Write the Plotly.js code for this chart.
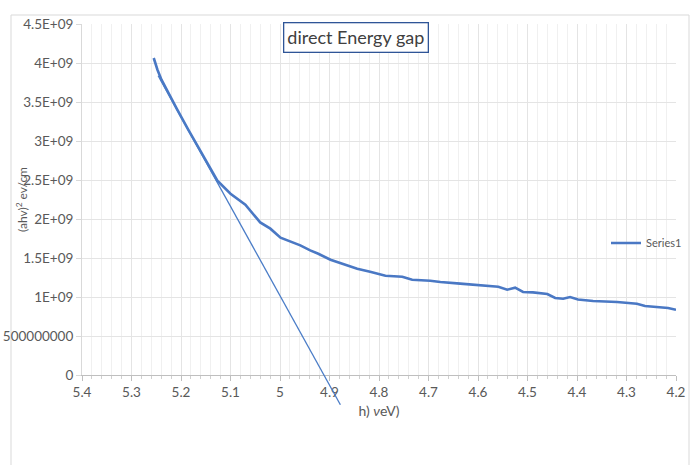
<!DOCTYPE html>
<html>
<head>
<meta charset="utf-8">
<script src="https://cdn.plot.ly/plotly-3.0.1.min.js"></script>
<style>
html,body{margin:0;padding:0;background:#fff;}
#chart{width:691px;height:465px;}
</style>
</head>
<body>
<div id="chart"></div>
<script>
// Series1: photon energy (eV) vs (ahv)^2
const energy = [5.2551, 5.2476, 5.2395, 5.2294, 5.2076, 5.1854, 5.1628, 5.1457, 5.1265, 5.100,
  5.070, 5.040, 5.0195, 4.999, 4.979, 4.959, 4.939, 4.9226, 4.898, 4.872,
  4.844, 4.818, 4.787, 4.753, 4.733, 4.6965, 4.676, 4.636, 4.596, 4.559,
  4.541, 4.525, 4.509, 4.489, 4.460, 4.444, 4.428, 4.414, 4.398, 4.3675,
  4.319, 4.279, 4.2625, 4.246, 4.216, 4.200];
const ahv2 = [4.064e9, 3.914e9, 3.786e9, 3.658e9, 3.401e9, 3.145e9, 2.888e9, 2.696e9, 2.491e9, 2.324e9,
  2.183e9, 1.956e9, 1.876e9, 1.760e9, 1.709e9, 1.662e9, 1.597e9, 1.555e9, 1.478e9, 1.418e9,
  1.363e9, 1.324e9, 1.273e9, 1.260e9, 1.222e9, 1.209e9, 1.192e9, 1.171e9, 1.149e9, 1.132e9,
  1.094e9, 1.119e9, 1.064e9, 1.059e9, 1.038e9, 0.987e9, 0.978e9, 1.000e9, 0.969e9, 0.949e9,
  0.936e9, 0.914e9, 0.885e9, 0.879e9, 0.859e9, 0.837e9];

// Tangent (extrapolation) line end points
const tangentX = [5.2462, 4.878];
const tangentY = [3.837e9, -0.381e9];

// Axis ticks
const xTickVals = [5.4, 5.3, 5.2, 5.1, 5.0, 4.9, 4.8, 4.7, 4.6, 4.5, 4.4, 4.3, 4.2];
const xTickText = ["5.4", "5.3", "5.2", "5.1", "5", "4.9", "4.8", "4.7", "4.6", "4.5", "4.4", "4.3", "4.2"];
const yTickVals = [0, 5e8, 1e9, 1.5e9, 2e9, 2.5e9, 3e9, 3.5e9, 4e9, 4.5e9];
const yTickText = ["0", "500000000", "1E+09", "1.5E+09", "2E+09", "2.5E+09", "3E+09", "3.5E+09", "4E+09", "4.5E+09"];

const yMax = 4.5e9;
const FONT = "Lato, 'Open Sans', sans-serif";
const TXT = "#595959";

const traces = [{
  x: energy, y: ahv2, type: "scatter", mode: "lines", name: "Series1",
  line: {color: "#4a78c4", width: 2.6}
}];

const layout = {
  width: 691, height: 465,
  margin: {l: 82, r: 15, t: 24, b: 90, autoexpand: false},
  paper_bgcolor: "#ffffff", plot_bgcolor: "#ffffff",
  font: {family: FONT, size: 13, color: TXT},
  showlegend: true,
  legend: {x: (606 - 82) / 594, y: (375 - 243) / 351, xanchor: "left", yanchor: "middle", bgcolor: "rgba(0,0,0,0)",
           font: {family: FONT, size: 11, color: TXT}},
  xaxis: {
    range: [5.4, 4.2], tickmode: "array", tickvals: xTickVals, ticktext: xTickText,
    showgrid: true, gridcolor: "#e4e4e4", gridwidth: 1,
    showline: true, linecolor: "#bfbfbf", linewidth: 1,
    ticks: "outside", ticklen: 5, tickcolor: "#bfbfbf",
    zeroline: false,
    tickfont: {family: FONT, size: 13.5, color: TXT},
    minor: {dtick: 0.02, tick0: 4.2, showgrid: true, gridcolor: "#f0f0f0", ticks: "outside", ticklen: 3, tickcolor: "#d0d0d0"},
    title: {text: "h) <i>ν</i>eV)", font: {family: FONT, size: 14, color: TXT}, standoff: 6}
  },
  yaxis: {
    range: [0, yMax], tickmode: "array", tickvals: yTickVals, ticktext: yTickText,
    showgrid: true, gridcolor: "#e4e4e4", gridwidth: 1,
    showline: true, linecolor: "#d9d9d9",
    ticks: "outside", ticklen: 5, tickcolor: "#d9d9d9",
    zeroline: false,
    tickfont: {family: FONT, size: 13.5, color: TXT}
  },
  shapes: [
    {type: "rect", xref: "paper", yref: "paper",
     x0: (11 - 82) / 594, x1: (689 - 82) / 594, y0: -0.3, y1: (375 - 15) / 351,
     line: {color: "#d9d9d9", width: 1}, fillcolor: "rgba(0,0,0,0)", layer: "below"},
    {type: "line", xref: "x", yref: "paper",
     x0: tangentX[0], y0: tangentY[0] / yMax, x1: tangentX[1], y1: tangentY[1] / yMax,
     line: {color: "#4a7cc7", width: 1.3}}
  ],
  annotations: [{
    text: "direct Energy gap", xref: "paper", yref: "paper",
    x: (356 - 82) / 594, y: (375 - 37) / 351, xanchor: "center", yanchor: "middle",
    showarrow: false, font: {family: FONT, size: 18, color: "#404040"},
    bordercolor: "#2F5597", borderwidth: 1.3, borderpad: 3, bgcolor: "#ffffff"
  }, {
    text: "(ahv)<sup>2</sup> ev/cm", xref: "paper", yref: "paper",
    x: (22 - 82) / 594, y: (375 - 200) / 351, xanchor: "center", yanchor: "middle",
    textangle: -90, showarrow: false, font: {family: FONT, size: 12, color: TXT}
  }]
};

Plotly.newPlot("chart", traces, layout, {displayModeBar: false, staticPlot: true});
</script>
</body>
</html>
